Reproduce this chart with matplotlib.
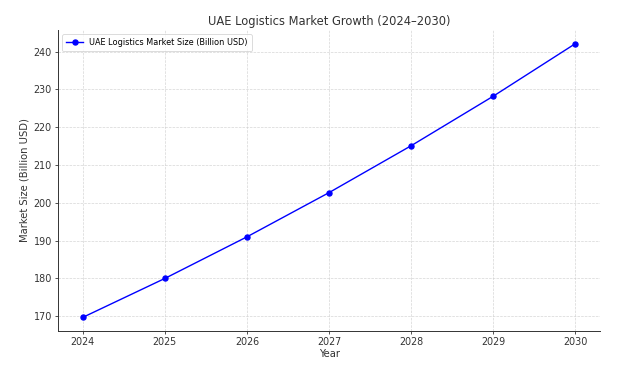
import matplotlib
matplotlib.use("Agg")
import matplotlib.pyplot as plt

years = [2024, 2025, 2026, 2027, 2028, 2029, 2030]
market_size = [169.7, 180.0, 191.0, 202.7, 215.1, 228.2, 242.1]

fig = plt.figure(figsize=(6.39, 3.65), dpi=100)
ax = fig.add_axes([0.091, 0.093, 0.848, 0.825])

ax.plot(years, market_size, marker='o', color='blue', linewidth=1.0, markersize=3.6,
        label='UAE Logistics Market Size (Billion USD)')

ax.set_title('UAE Logistics Market Growth (2024–2030)', fontsize=8.3, color='#333333', pad=3.5)
ax.set_xlabel('Year', fontsize=7.2, color='#333333', labelpad=1.5)
ax.set_ylabel('Market Size (Billion USD)', fontsize=7.2, color='#333333', labelpad=3)
ax.set_xticks(years)
ax.tick_params(labelsize=6.9, colors='#333333', length=2.5, width=0.6, pad=2)
ax.grid(True, linestyle='--', color='#cccccc', linewidth=0.5, alpha=0.8)
for side in ['top', 'right']:
    ax.spines[side].set_visible(False)
for side in ['left', 'bottom']:
    ax.spines[side].set_color('#333333')
    ax.spines[side].set_linewidth(0.7)
leg = ax.legend(loc='upper left', fontsize=5.9, frameon=True, borderpad=0.5, handlelength=2.0)
leg.get_frame().set_linewidth(0.6)

fig.savefig('out.png', dpi=100)
